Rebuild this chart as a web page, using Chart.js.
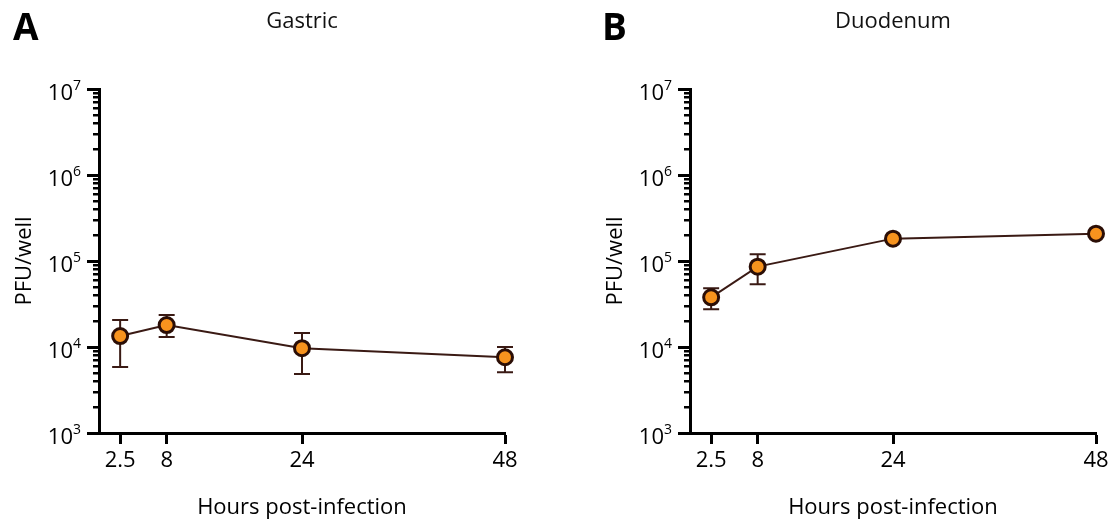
<!DOCTYPE html>
<html>
<head>
<meta charset="utf-8">
<script src="https://cdn.jsdelivr.net/npm/chart.js@4.4.0/dist/chart.umd.min.js"></script>
<style>
  html, body { margin: 0; padding: 0; background: #fff; }
  #wrap { position: relative; width: 1116px; height: 522px; overflow: hidden; }
  .panel { position: absolute; top: 0; width: 525px; height: 522px; }
</style>
</head>
<body>
<div id="wrap">
  <div class="panel" style="left:0"><canvas id="chartA" width="525" height="522"></canvas></div>
  <div class="panel" style="left:591px"><canvas id="chartB" width="525" height="522"></canvas></div>
</div>
<script>
// hours post-infection
const hours = [2.5, 8, 24, 48];

// Gastric (panel A), PFU/well
const gastricMean = [13400, 18000, 9700, 7600];
const gastricLow  = [5850, 13100, 4850, 5100];
const gastricHigh = [20600, 23500, 14500, 10000];

// Duodenum (panel B), PFU/well
const duodenumMean = [37800, 86000, 182000, 208000];
const duodenumLow  = [27400, 53600, 170000, 196000];
const duodenumHigh = [48200, 120000, 194000, 220000];

// y axis decades (10^3 .. 10^7)
const yExps = [3, 4, 5, 6, 7];
const yMinorMult = [2, 3, 4, 5, 6, 7, 8, 9];

const FONT = '"Open Sans", "Noto Sans", sans-serif';
const lineColor = '#3a1a14';
const dotFill = '#f7931e';
const dotEdge = '#2b0e06';

function isPow10(v) { return Math.abs(Math.log10(v) - Math.round(Math.log10(v))) < 1e-9; }

function yTickValues() {
  const out = [];
  yExps.forEach((e, i) => {
    out.push(Math.pow(10, e));
    if (i < yExps.length - 1) yMinorMult.forEach(m => out.push(m * Math.pow(10, e)));
  });
  return out;
}

// error bars, minor ticks, 10^n labels, panel title and letter
const panelDeco = {
  id: 'panelDeco',
  beforeDatasetsDraw(chart, args, opts) {
    const { ctx } = chart;
    const xs = chart.scales.x, ys = chart.scales.y;
    ctx.save();
    ctx.strokeStyle = lineColor;
    ctx.lineWidth = 2;
    opts.low.forEach((lo, i) => {
      const px = xs.getPixelForValue(hours[i]);
      const y1 = ys.getPixelForValue(lo), y2 = ys.getPixelForValue(opts.high[i]);
      ctx.beginPath();
      ctx.moveTo(px, y1); ctx.lineTo(px, y2);
      ctx.moveTo(px - 8, y1); ctx.lineTo(px + 8, y1);
      ctx.moveTo(px - 8, y2); ctx.lineTo(px + 8, y2);
      ctx.stroke();
    });
    ctx.restore();
  },
  afterDraw(chart, args, opts) {
    const { ctx, chartArea } = chart;
    const ys = chart.scales.y;
    ctx.save();
    // minor ticks
    ctx.strokeStyle = '#000';
    ctx.lineWidth = 2.5;
    ys.ticks.forEach(t => {
      if (isPow10(t.value)) return;
      const py = Math.round(ys.getPixelForValue(t.value)) + 0.25;
      ctx.beginPath();
      ctx.moveTo(ys.right - 6, py); ctx.lineTo(ys.right, py);
      ctx.stroke();
    });
    // 10^n labels
    ctx.fillStyle = '#000';
    ctx.textAlign = 'right';
    ctx.textBaseline = 'alphabetic';
    yExps.forEach(e => {
      const py = ys.getPixelForValue(Math.pow(10, e));
      const right = ys.right - 18;
      ctx.font = '14px ' + FONT;
      const ew = ctx.measureText(String(e)).width;
      ctx.fillText(String(e), right, py + 1);
      ctx.font = '22px ' + FONT;
      ctx.fillText('10', right - ew, py + 11);
    });
    // panel title
    ctx.textAlign = 'center';
    ctx.font = '22px ' + FONT;
    ctx.fillStyle = '#111';
    ctx.fillText(opts.title, (chartArea.left + chartArea.right) / 2, 28);
    // panel letter
    ctx.textAlign = 'left';
    ctx.font = 'bold 37px ' + FONT;
    ctx.fillStyle = '#000';
    ctx.fillText(opts.letter, opts.letterX, 40);
    ctx.restore();
  }
};

function makePanel(id, letter, letterX, title, mean, low, high) {
  return new Chart(document.getElementById(id), {
    type: 'line',
    data: {
      datasets: [{
        data: hours.map((h, i) => ({ x: h, y: mean[i] })),
        borderColor: lineColor,
        borderWidth: 2,
        tension: 0,
        pointRadius: 7.5,
        pointBorderWidth: 3,
        pointBackgroundColor: dotFill,
        pointBorderColor: dotEdge,
        clip: false
      }]
    },
    options: {
      responsive: false,
      animation: false,
      layout: { padding: { top: 89, right: 20, left: 0, bottom: 0 } },
      plugins: {
        legend: { display: false },
        tooltip: { enabled: false },
        panelDeco: { letter, letterX, title, low, high }
      },
      scales: {
        x: {
          type: 'linear', min: 0, max: 48,
          afterBuildTicks: s => { s.ticks = hours.map(v => ({ value: v })); },
          afterFit: s => { s.height = 89; },
          grid: { drawOnChartArea: false, drawTicks: true, tickLength: 11, tickWidth: 3, tickColor: '#000' },
          border: { color: '#000', width: 3 },
          ticks: {
            color: '#000', padding: 4, maxRotation: 0, autoSkip: false,
            font: { family: FONT, size: 22 },
            callback: v => String(v)
          },
          title: {
            display: true, text: 'Hours post-infection', color: '#000',
            font: { family: FONT, size: 22 }, padding: { top: 0, bottom: 1 }
          }
        },
        y: {
          type: 'logarithmic', min: 1000, max: 1e7,
          afterBuildTicks: s => { s.ticks = yTickValues().map(v => ({ value: v })); },
          afterFit: s => { s.width = 99; },
          grid: {
            drawOnChartArea: false, drawTicks: true, tickLength: 12, tickWidth: 3,
            tickColor: c => (c.tick && isPow10(c.tick.value)) ? '#000' : 'rgba(0,0,0,0)'
          },
          border: { color: '#000', width: 3 },
          ticks: { display: false },
          title: {
            display: true, text: 'PFU/well', color: '#000',
            font: { family: FONT, size: 22 }, padding: { top: 12, bottom: 0 }
          }
        }
      }
    },
    plugins: [panelDeco]
  });
}

makePanel('chartA', 'A', 13, 'Gastric', gastricMean, gastricLow, gastricHigh);
makePanel('chartB', 'B', 11, 'Duodenum', duodenumMean, duodenumLow, duodenumHigh);
</script>
</body>
</html>
